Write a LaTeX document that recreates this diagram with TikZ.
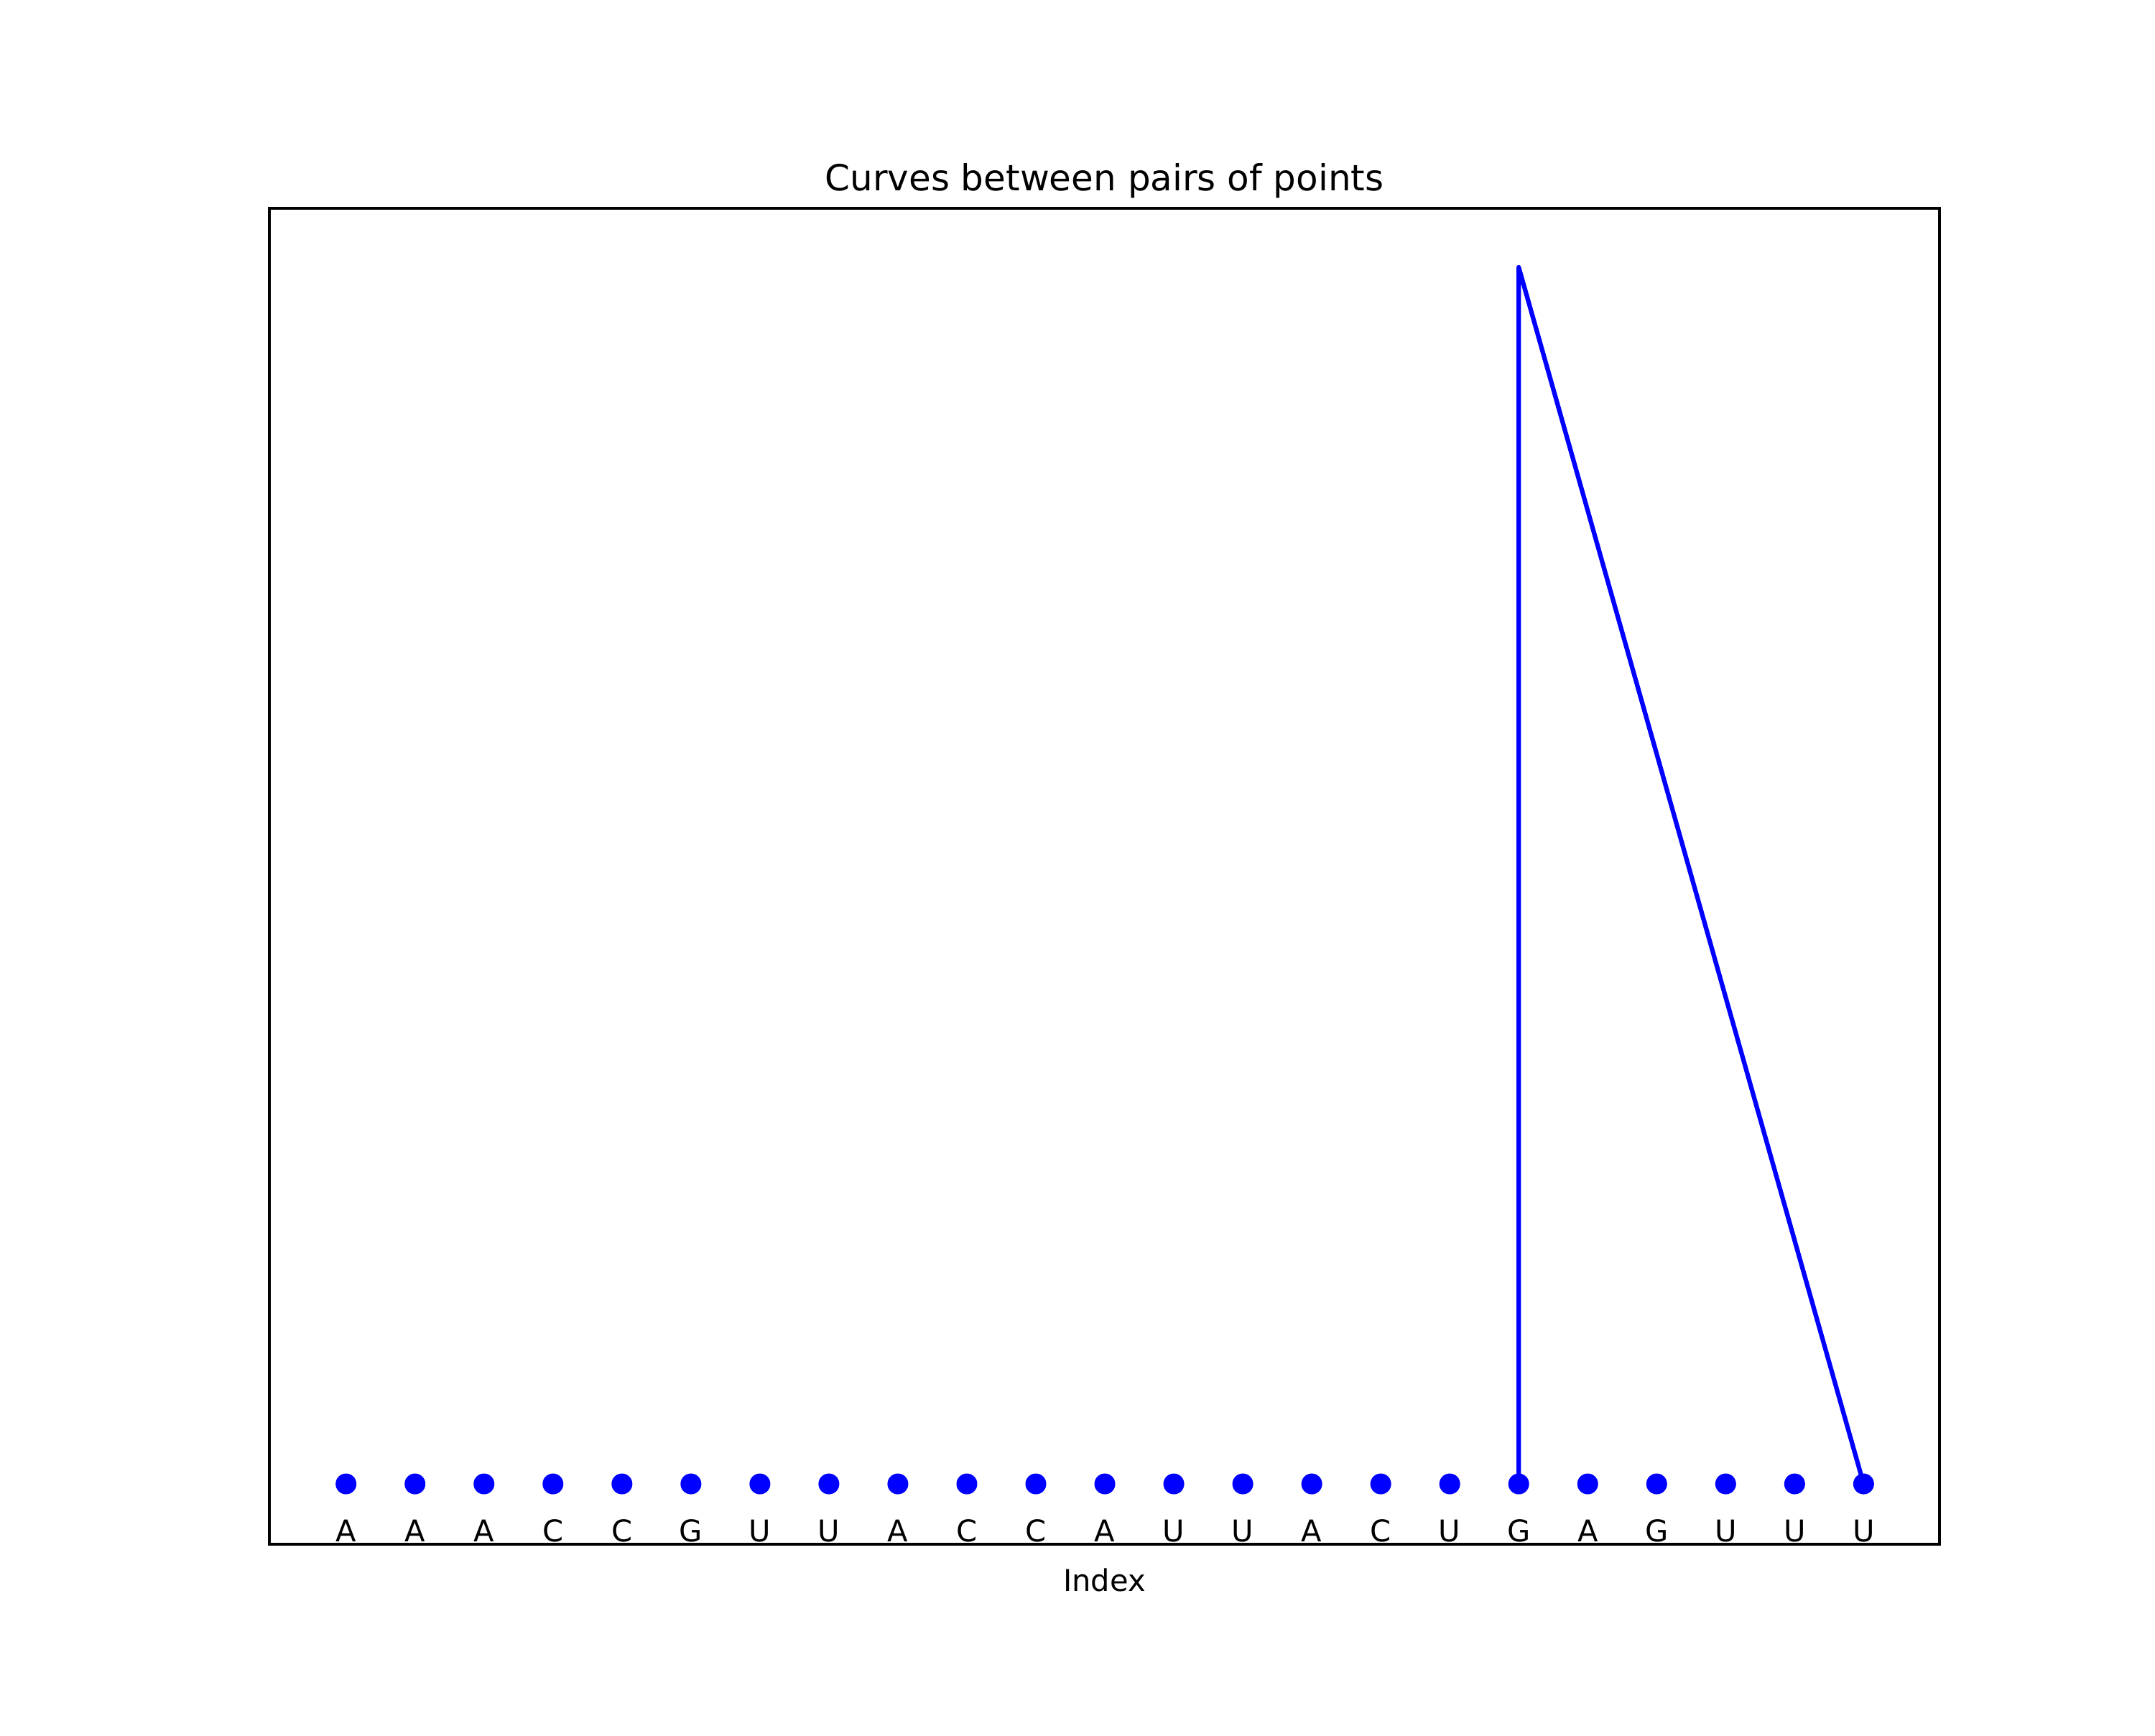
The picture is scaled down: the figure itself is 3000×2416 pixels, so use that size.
\documentclass[tikz,border=0pt]{standalone}
\usepackage{fontspec}
\setmainfont{DejaVu Sans}
\begin{document}
\begin{tikzpicture}[x=0.24pt,y=-0.24pt,
  dot/.style={circle,fill=blue,inner sep=0pt,minimum size=6.96pt,draw=none},
  base/.style={font=\fontsize{10}{12}\selectfont,inner sep=0pt,anchor=base},
  pair/.style={draw=blue,line width=1.5pt,line join=round,line cap=round}]
\useasboundingbox (0,0) rectangle (3000,2416);
\fill[white] (0,0) rectangle (3000,2416);
\draw[line width=1pt] (375,290) rectangle (2700,2150);
\node[font=\fontsize{12}{14}\selectfont,inner sep=0pt,anchor=base] (title) at (1537.5,265) {Curves between pairs of points};
\node[base] (xlabel) at (1537.5,2215) {Index};
\foreach \s [count=\i from 0] in {A,A,A,C,C,G,U,U,A,C,C,A,U,U,A,C,U,G,A,G,U,U,U}{
  \pgfmathsetmacro{\xx}{481.7+96.03*\i}
  \node[base] (l\i) at (\xx,2146) {\s};
}
\coordinate (top) at (2114.2,372);
\foreach \i in {0,...,22}{
  \pgfmathsetmacro{\xx}{481.7+96.03*\i}
  \coordinate (c\i) at (\xx,2066);
}
\draw[pair] (c17) -- (top) -- (c22);
\foreach \i in {0,...,22}{
  \node[dot] (d\i) at (c\i) {};
}
\end{tikzpicture}
\end{document}
